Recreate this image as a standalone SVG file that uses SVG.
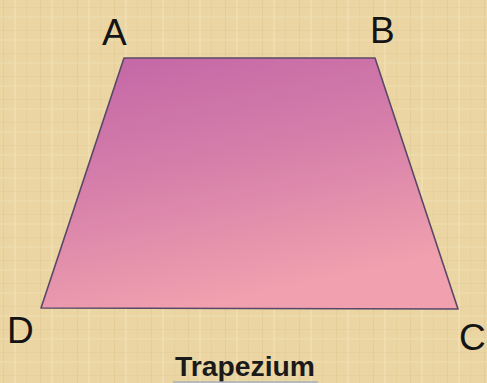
<svg xmlns="http://www.w3.org/2000/svg" width="487" height="383" viewBox="0 0 487 383">
<defs>
<linearGradient id="fill" x1="0" y1="0" x2="0.35" y2="1">
<stop offset="0" stop-color="#C265A6"/>
<stop offset="0.5" stop-color="#D67FAA"/>
<stop offset="1" stop-color="#F0A0AE"/>
</linearGradient>
<pattern id="tex" width="37" height="23" patternUnits="userSpaceOnUse">
<rect width="37" height="23" fill="#EAD5A3"/>
<line x1="3.5" y1="0" x2="3.5" y2="23" stroke="#D8BD86" stroke-width="1" opacity="0.35"/>
<line x1="15" y1="0" x2="15" y2="23" stroke="#F4E4BC" stroke-width="2" opacity="0.5"/>
<line x1="26.5" y1="0" x2="26.5" y2="23" stroke="#DCC38E" stroke-width="1" opacity="0.3"/>
<line x1="0" y1="7.5" x2="37" y2="7.5" stroke="#DCC28C" stroke-width="1" opacity="0.3"/>
<line x1="0" y1="17" x2="37" y2="17" stroke="#F2E0B4" stroke-width="2" opacity="0.4"/>
</pattern>
<style>
.lbl{font-family:"Liberation Sans","DejaVu Sans",sans-serif;font-size:37px;fill:#141414}
.title{font-family:"Liberation Sans","DejaVu Sans",sans-serif;font-size:27px;font-weight:bold;fill:#1a1a1a}
</style>
</defs>
<rect width="487" height="383" fill="url(#tex)"/>
<g id="trapezium">
<polygon points="124,58 375,58 458,309 41,308" fill="url(#fill)" stroke="#5A4868" stroke-width="1.6" stroke-linejoin="round"/>
</g>
<g id="label-A"><text class="lbl" x="102" y="45">A</text></g>
<g id="label-B"><text class="lbl" x="370" y="43">B</text></g>
<g id="label-D"><text class="lbl" x="7" y="343">D</text></g>
<g id="label-C"><text class="lbl" x="459" y="350">C</text></g>
<g id="title">
<text class="title" x="175" y="376" textLength="140" lengthAdjust="spacingAndGlyphs">Trapezium</text>
<line x1="173" y1="382" x2="318" y2="382" stroke="#9FB2BE" stroke-width="2" opacity="0.7"/>
</g>
</svg>
